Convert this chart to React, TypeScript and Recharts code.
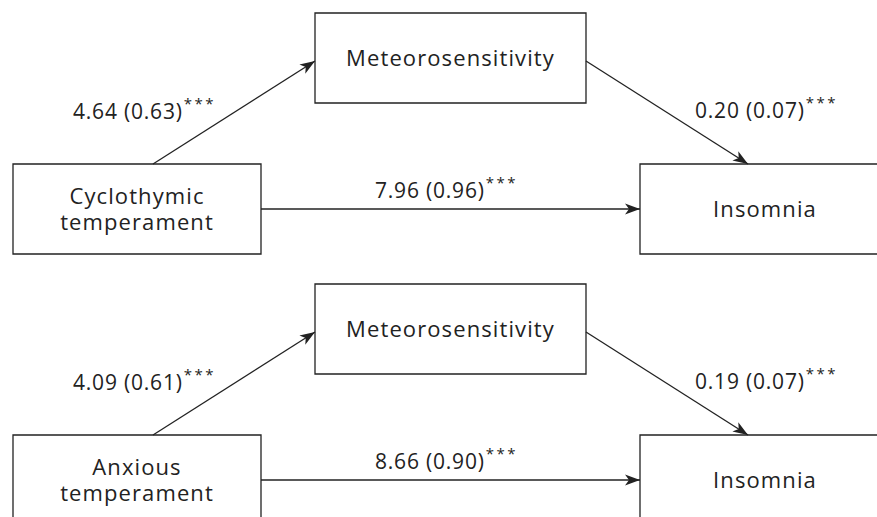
import React from 'react'
import { ScatterChart, Scatter, XAxis, YAxis, ReferenceArea } from 'recharts'

const W = 877
const H = 517
const INK = '#222'
const FONT = '"Open Sans", sans-serif'

// two mediation models, one per panel
const predictorNames = [['Cyclothymic', 'temperament'], ['Anxious', 'temperament']]
const mediatorName = 'Meteorosensitivity'
const outcomeName = 'Insomnia'
const pathA = ['4.64 (0.63)', '4.09 (0.61)']
const pathB = ['0.20 (0.07)', '0.19 (0.07)']
const pathC = ['7.96 (0.96)', '8.66 (0.90)']
const signif = ['***', '***']

// layout in chart units (domain == pixels)
const panelOffset = [0, 271]
const mediatorBox = { x1: 315, x2: 586, y1: 13, y2: 103 }
const predictorBox = { x1: 13, x2: 261, y1: 164, y2: 254 }
const outcomeBox = { x1: 640, x2: 890, y1: 164, y2: 254 }
const arrowA = [[153, 164], [315, 61]]
const arrowB = [[586, 61], [748, 164]]
const arrowC = [[261, 209], [640, 209]]
const labelA = [73, 119]
const labelB = [695, 118]
const labelC = [375, 198]

const boxes = panelOffset.flatMap((dy) =>
  [mediatorBox, predictorBox, outcomeBox].map((b) => ({ ...b, y1: b.y1 + dy, y2: b.y2 + dy }))
)

const boxTexts = panelOffset.flatMap((dy, i) => [
  { x: (mediatorBox.x1 + mediatorBox.x2) / 2, y: (mediatorBox.y1 + mediatorBox.y2) / 2 + dy, lines: [mediatorName] },
  { x: (predictorBox.x1 + predictorBox.x2) / 2, y: (predictorBox.y1 + predictorBox.y2) / 2 + dy, lines: predictorNames[i] },
  { x: (outcomeBox.x1 + outcomeBox.x2) / 2, y: (outcomeBox.y1 + outcomeBox.y2) / 2 + dy, lines: [outcomeName] },
])

const coefLabels = panelOffset.flatMap((dy, i) => [
  { x: labelA[0], y: labelA[1] + dy, text: pathA[i], stars: signif[i] },
  { x: labelB[0], y: labelB[1] + dy, text: pathB[i], stars: signif[i] },
  { x: labelC[0], y: labelC[1] + dy, text: pathC[i], stars: signif[i] },
])

const arrows = panelOffset.flatMap((dy) =>
  [arrowA, arrowB, arrowC].map(([p, q]) => {
    const ang = Math.atan2(q[1] - p[1], q[0] - p[0])
    return [
      { x: p[0], y: p[1] + dy, head: false, ang },
      { x: q[0], y: q[1] + dy, head: true, ang },
    ]
  })
)

const ArrowHead = (props: any) => {
  const { cx, cy, payload } = props
  if (!payload.head) return <g />
  const deg = (payload.ang * 180) / Math.PI
  return (
    <polygon
      points="0,0 -15,-5.5 -11,0 -15,5.5"
      fill={INK}
      transform={`translate(${cx},${cy}) rotate(${deg})`}
    />
  )
}

const BoxText = (props: any) => {
  const { cx, cy, payload } = props
  const lines: string[] = payload.lines
  const step = 26
  const start = cy - ((lines.length - 1) * step) / 2
  return (
    <text textAnchor="middle" fontFamily={FONT} fontSize={22} letterSpacing={1.1} fill={INK}>
      {lines.map((l, k) => (
        <tspan key={k} x={cx} y={start + k * step + 7.5}>
          {l}
        </tspan>
      ))}
    </text>
  )
}

const CoefText = (props: any) => {
  const { cx, cy, payload } = props
  return (
    <text x={cx} y={cy} fontFamily={FONT} fontSize={21} letterSpacing={0.8} fill={INK}>
      {payload.text}
      <tspan dx={1} dy={-10} fontSize={15} letterSpacing={2.5}>{payload.stars}</tspan>
    </text>
  )
}

export default function App() {
  return (
    <div style={{ position: 'fixed', left: 0, top: 0, width: W, height: H, overflow: 'hidden', background: '#fff' }}>
      <ScatterChart width={W} height={H} margin={{ top: 0, right: 0, bottom: 0, left: 0 }}>
        <XAxis type="number" dataKey="x" domain={[0, W]} allowDataOverflow hide />
        <YAxis type="number" dataKey="y" domain={[0, H]} allowDataOverflow reversed hide />
        {boxes.map((b, i) => (
          <ReferenceArea
            key={`box-${i}`}
            x1={b.x1}
            x2={b.x2}
            y1={b.y1}
            y2={b.y2}
            ifOverflow="visible"
            fill="none"
            stroke={INK}
            strokeWidth={1.3}
          />
        ))}
        {arrows.map((a, i) => (
          <Scatter
            key={`arrow-${i}`}
            data={a}
            line={{ stroke: INK, strokeWidth: 1.3 }}
            lineType="joint"
            shape={ArrowHead}
            isAnimationActive={false}
          />
        ))}
        <Scatter data={boxTexts} shape={BoxText} isAnimationActive={false} />
        <Scatter data={coefLabels} shape={CoefText} isAnimationActive={false} />
      </ScatterChart>
    </div>
  )
}
